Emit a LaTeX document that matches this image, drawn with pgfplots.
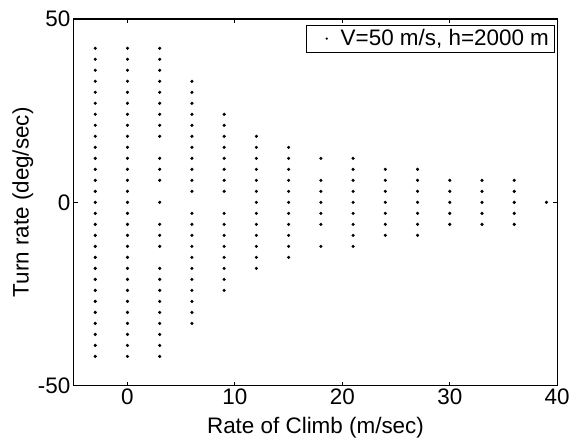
\documentclass[border=0pt]{standalone}
\usepackage{pgfplots}
\pgfplotsset{compat=1.18}
\usepackage{fontspec}
\setmainfont{Liberation Sans}
\begin{document}
\begin{tikzpicture}
\begin{axis}[
 name=ax,
 scale only axis, width=485pt, height=368pt,
 xmin=-5, xmax=40, ymin=-50, ymax=50,
 xtick={0,10,20,30,40}, ytick={-50,0,50},
 tick align=inside, major tick length=4pt,
 axis line style={line width=1.2pt},
 tick style={line width=1pt, black},
 tick label style={font=\fontsize{22.5}{25}\selectfont},
 label style={font=\fontsize{22.5}{25}\selectfont},
 /pgf/number format/assume math mode=true,
 xlabel={Rate of Climb (m/sec)}, ylabel={Turn rate (deg/sec)},
 xlabel style={at={(axis description cs:0.5,-0.1141)}, anchor=center},
 ylabel style={at={(axis description cs:-0.1052,0.5)}, anchor=center},
 legend style={at={(0.9938,0.9837)}, anchor=north east, draw=black, line width=0.6pt,
   inner xsep=3pt, inner ysep=2.5pt, font=\fontsize{22.5}{25}\selectfont, legend cell align=left},
 legend image code/.code={\path[draw=none,fill=none] (0pt,0pt) rectangle (30pt,0pt); \fill[black,draw=none] (18pt,0pt) circle (1.3pt);},
]
\addplot[only marks, mark=*, mark size=1.4pt, black] coordinates {
(-3,42)(-3,39)(-3,36)(-3,33)(-3,30)(-3,27)(-3,24)(-3,21)(-3,18)(-3,15)(-3,12)(-3,9)(-3,6)(-3,3)(-3,0)
(-3,-3)(-3,-6)(-3,-9)(-3,-12)(-3,-15)(-3,-18)(-3,-21)(-3,-24)(-3,-27)(-3,-30)(-3,-33)(-3,-36)(-3,-39)(-3,-42)
(0,42)(0,39)(0,36)(0,33)(0,30)(0,27)(0,24)(0,21)(0,18)(0,15)(0,12)(0,9)(0,6)(0,3)(0,0)
(0,-3)(0,-6)(0,-9)(0,-12)(0,-15)(0,-18)(0,-21)(0,-24)(0,-27)(0,-30)(0,-33)(0,-36)(0,-39)(0,-42)
(3,42)(3,39)(3,36)(3,33)(3,30)(3,27)(3,24)(3,21)(3,18)(3,12)(3,9)(3,6)(3,0)
(3,-6)(3,-9)(3,-12)(3,-18)(3,-21)(3,-24)(3,-27)(3,-30)(3,-33)(3,-36)(3,-39)(3,-42)
(6,33)(6,30)(6,27)(6,24)(6,21)(6,18)(6,15)(6,12)(6,9)(6,6)(6,3)
(6,-3)(6,-6)(6,-9)(6,-12)(6,-15)(6,-18)(6,-21)(6,-24)(6,-27)(6,-30)(6,-33)
(9,24)(9,21)(9,18)(9,15)(9,12)(9,9)(9,6)(9,3)
(9,-3)(9,-6)(9,-9)(9,-12)(9,-15)(9,-18)(9,-21)(9,-24)
(12,18)(12,15)(12,12)(12,9)(12,6)(12,3)(12,0)(12,-3)(12,-6)(12,-9)(12,-12)(12,-15)(12,-18)
(15,15)(15,12)(15,9)(15,6)(15,3)(15,0)(15,-3)(15,-6)(15,-9)(15,-12)(15,-15)
(18,12)(18,6)(18,3)(18,0)(18,-3)(18,-6)(18,-12)
(21,12)(21,9)(21,6)(21,3)(21,0)(21,-3)(21,-6)(21,-9)(21,-12)
(24,9)(24,6)(24,3)(24,0)(24,-3)(24,-6)(24,-9)
(27,9)(27,6)(27,3)(27,0)(27,-3)(27,-6)(27,-9)
(30,6)(30,3)(30,0)(30,-3)(30,-6)
(33,6)(33,3)(33,0)(33,-3)(33,-6)
(36,6)(36,3)(36,0)(36,-3)(36,-6)
(39,0)
};
\addlegendentry{V=50 m/s, h=2000 m}
\end{axis}
\path (ax.north west) ++(-74pt,19pt);
\path (ax.south east) ++(14pt,-57pt);
\end{tikzpicture}
\end{document}
